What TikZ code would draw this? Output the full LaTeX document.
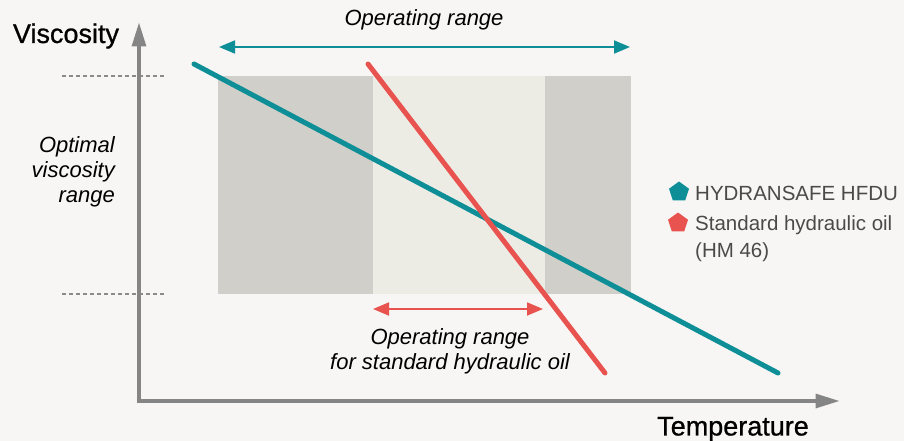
\documentclass[tikz,border=0pt]{standalone}
\usepackage{fontspec}
\setmainfont{Liberation Sans}
\newfontfamily\axisfont[FakeBold=0.8]{Liberation Sans}
\usetikzlibrary{arrows.meta,shapes.geometric}
\definecolor{bg}{HTML}{F7F6F4}
\definecolor{axisgray}{HTML}{858585}
\definecolor{guidegray}{HTML}{8A8A8A}
\definecolor{darkband}{HTML}{D0CFCA}
\definecolor{lightband}{HTML}{ECECE5}
\definecolor{teal}{HTML}{0E8E96}
\definecolor{oilred}{HTML}{E8524F}
\definecolor{legtext}{HTML}{4A4A4A}
\tikzset{
  axisline/.style={draw=axisgray, line width=3.2pt, -{Triangle[length=24pt,width=14pt]}},
  guide/.style={draw=guidegray, line width=1.1pt, dash pattern=on 4pt off 3pt},
  rangearrow/.style={line width=1.8pt, {Triangle[length=16pt,width=13pt]}-{Triangle[length=16pt,width=13pt]}},
  curve/.style={line width=5pt, line cap=round},
  itlabel/.style={font=\fontsize{22}{25}\selectfont\itshape, text=black, inner sep=0pt},
  axlabel/.style={font=\axisfont\fontsize{27}{30}\selectfont, text=black, inner sep=0pt},
  legtxt/.style={font=\fontsize{20.5}{24}\selectfont, text=legtext, inner sep=0pt, anchor=west},
  legmark/.style={regular polygon, regular polygon sides=5, minimum size=21pt, inner sep=0pt}
}
\begin{document}
\begin{tikzpicture}[x=1pt,y=-1pt]
\fill[bg] (0,0) rectangle (904,441);
\useasboundingbox (0,0) rectangle (904,441);
% bands
\fill[darkband] (218,76) rectangle (373,294);
\fill[lightband] (373,76) rectangle (545,294);
\fill[darkband] (545,76) rectangle (631,294);
% guides
\coordinate (g1a) at (62,76); \coordinate (g1b) at (166,76);
\coordinate (g2a) at (62,294); \coordinate (g2b) at (166,294);
\draw[guide] (g1a) -- (g1b);
\draw[guide] (g2a) -- (g2b);
% axes
\coordinate (origin) at (139,401);
\coordinate (ytip) at (139,22.5);
\coordinate (xtip) at (839.5,401);
\draw[axisline] (origin) -- (ytip);
\draw[axisline] ([xshift=-1.6pt]origin) -- (xtip);
% lines
\coordinate (t1) at (194,64); \coordinate (t2) at (778,373);
\coordinate (r1) at (368,64); \coordinate (r2) at (605,373);
\draw[curve, teal] (t1) -- (t2);
\draw[curve, oilred] (r1) -- (r2);
% range arrows
\coordinate (ta) at (219,47); \coordinate (tb) at (630,47);
\draw[rangearrow, teal] (ta) -- (tb);
\coordinate (ra) at (373,309); \coordinate (rb) at (543,309);
\draw[rangearrow, oilred] (ra) -- (rb);
% labels
\node[itlabel] (oplab) at (424,20) {Operating range};
\node[itlabel, align=center] (stdlab) at (450,351) {Operating range\\for standard hydraulic oil};
\node[itlabel, align=right, anchor=east] (optlab) at (115,172) {Optimal\\viscosity\\range};
\node[axlabel] (vislab) at (66,36) {Viscosity};
\node[axlabel] (templab) at (733,429) {Temperature};
% legend
\node[legmark, fill=teal] (m1) at (679,192) {};
\node[legtxt] (l1) at (695,193) {HYDRANSAFE HFDU};
\node[legmark, fill=oilred] (m2) at (678,223) {};
\node[legtxt] (l2) at (695,225) {Standard hydraulic oil};
\node[legtxt] (l3) at (695,252) {(HM 46)};
\end{tikzpicture}
\end{document}
